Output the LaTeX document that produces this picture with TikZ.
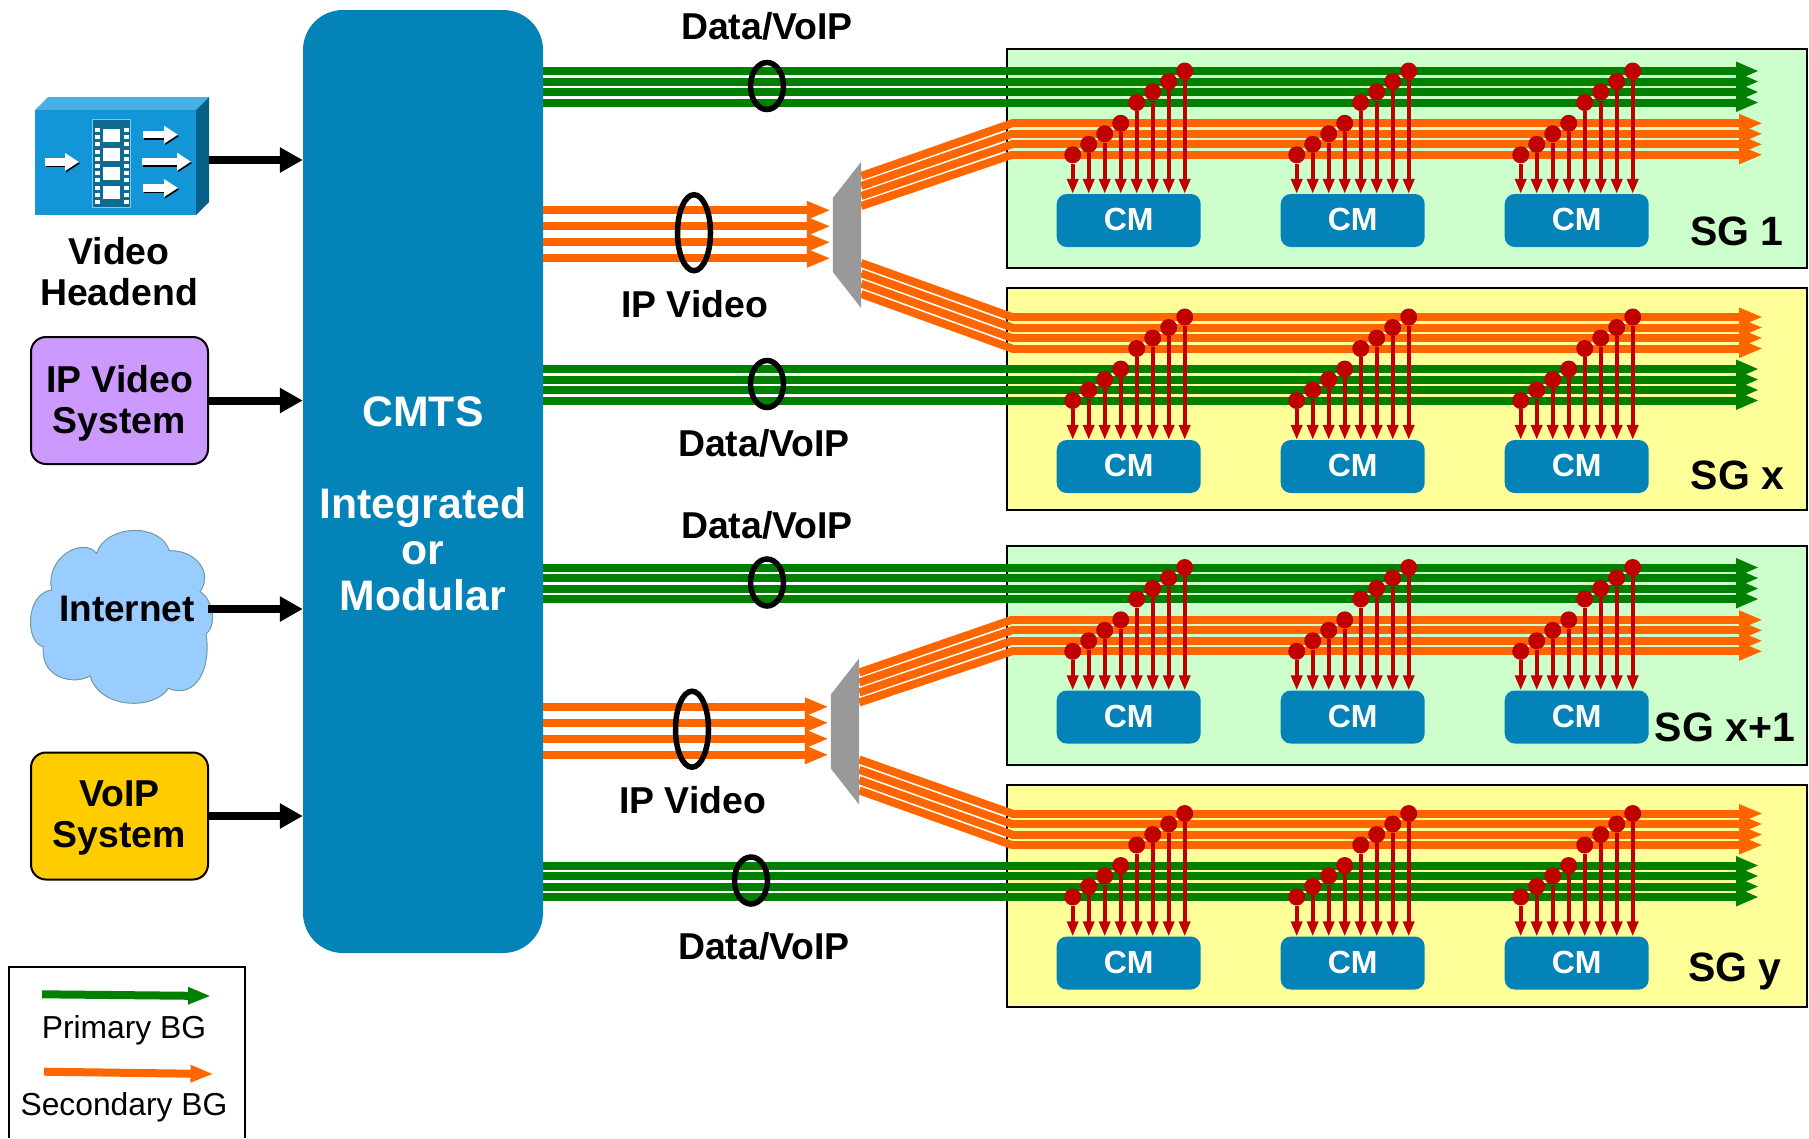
\documentclass[tikz,border=0pt]{standalone}
\usepackage{fontspec}
\setmainfont{Liberation Sans}
\usetikzlibrary{arrows.meta,shapes.geometric}
\definecolor{bggreen}{HTML}{008000}
\definecolor{bgorange}{HTML}{FF6600}
\definecolor{cmtsblue}{HTML}{0483B9}
\definecolor{pinred}{HTML}{C00000}
\definecolor{sggreen}{HTML}{CCFFCC}
\definecolor{sgyellow}{HTML}{FFFF99}
\definecolor{cubefront}{HTML}{1296D8}
\definecolor{cubetop}{HTML}{48AFE6}
\definecolor{cubeside}{HTML}{065F87}
\definecolor{filmblue}{HTML}{0F6A94}
\definecolor{filmedge}{HTML}{7FC8EC}
\definecolor{ipviolet}{HTML}{CC99FF}
\definecolor{voipgold}{HTML}{FFCC00}
\definecolor{cloudblue}{HTML}{99CCFF}
\definecolor{cloudedge}{HTML}{6F9A9F}
\tikzstyle{primary} = [draw=bggreen, line width=8pt, -{Triangle[length=23pt,width=17pt]}]
\tikzstyle{secondary} = [draw=bgorange, line width=8pt, -{Triangle[length=24pt,width=17pt]}]
\tikzstyle{fanline} = [draw=bgorange, line width=8pt]
\tikzstyle{feed} = [draw=black, line width=8pt, -{Triangle[length=23pt,width=24pt]}]
\tikzstyle{droparrow} = [draw=pinred, line width=4pt, -{Triangle[length=15pt,width=11pt]}]
\tikzstyle{pindot} = [circle, fill=pinred, minimum size=17pt, inner sep=0pt]
\tikzstyle{cmbox} = [fill=cmtsblue, rounded corners=10pt, minimum width=144pt, minimum height=53pt,
    inner sep=0pt, text=white, text depth=2pt, font=\fontsize{32}{36}\bfseries\selectfont]
\tikzstyle{sgbox} = [draw=black, line width=2pt, minimum width=800pt, minimum height=219pt, inner sep=0pt]
\tikzstyle{sysbox} = [draw=black, line width=2pt, rounded corners=15pt, minimum width=177pt, minimum height=127pt,
    align=center, inner sep=0pt, text depth=3pt, font=\fontsize{37.4}{41}\bfseries\selectfont]
\tikzstyle{boldlabel} = [inner sep=0pt, align=center, font=\fontsize{37.4}{41}\bfseries\selectfont]
\tikzstyle{sglabel} = [inner sep=0pt, font=\fontsize{41}{45}\bfseries\selectfont]
\tikzstyle{legendlabel} = [inner sep=0pt, font=\fontsize{31.8}{35}\selectfont]
\tikzstyle{ring} = [ellipse, draw=black, line width=5.5pt, inner sep=0pt]
\newcommand{\cmgroup}[4]{%
    \foreach \g in {0,1,2} {
        \node[cmbox] (cm#1\g) at (1128.7+224*\g, #4+26.5) {CM};
        \foreach \i in {0,...,3} {
            \node[pindot] (pa#1\g\i) at (1072.7+224*\g+16*\i, #2+31.5-10.5*\i) {};
            \node[pindot] (pb#1\g\i) at (1136.7+224*\g+16*\i, #3+31.5-10.5*\i) {};
            \draw[droparrow] (pa#1\g\i) -- (pa#1\g\i |- cm#1\g.north);
            \draw[droparrow] (pb#1\g\i) -- (pb#1\g\i |- cm#1\g.north);
        }
    }
}
\begin{document}
\begin{tikzpicture}[x=1pt,y=-1pt]
    \useasboundingbox (0,0) rectangle (1809,1138);
    \node[fill=cmtsblue, rounded corners=40pt, minimum width=240pt, minimum height=943pt, inner sep=0pt] (cmts) at (423,481.5) {};
    \node[inner sep=0pt, align=center, text=white, font=\fontsize{42.7}{46}\bfseries\selectfont] (cmtstext) at (423,503.5)
        {CMTS\\[46pt]Integrated\\or\\Modular};

    \foreach \hf/\dy/\dx/\sga/\sgb/\sgax/\sgbx/\datatop/\datalow/\ringx in
        {up/0/0/SG 1/SG x/1737/1737.5/26/443/767, low/496.5/-2/SG x+1/SG y/1725/1735/28.5/449.5/751} {
        \begin{scope}[shift={(0,\dy)}]
            \node[sgbox, fill=sggreen] (sga\hf) at (1407,158.5) {};
            \node[sgbox, fill=sgyellow, minimum height=222pt] (sgb\hf) at (1407,399) {};
            \node[inner sep=0pt, minimum width=30pt, minimum height=146pt] (fan\hf) at (846+\dx,235) {};
            \foreach \i in {0,...,3} {
                \coordinate (ga\hf\i) at (1759,71+10.5*\i);
                \coordinate (gb\hf\i) at (1759,369+10.5*\i);
                \coordinate (oa\hf\i) at (1763,123.3+10.5*\i);
                \coordinate (ob\hf\i) at (1763,317+10.5*\i);
                \coordinate (in\hf\i) at (0,210.3+16*\i);
                \coordinate (fa\hf\i) at (0,176+10*\i);
                \coordinate (fb\hf\i) at (0,263+10.3*\i);
                \draw[primary] (cmts.east |- ga\hf\i) -- (ga\hf\i);
                \draw[primary] (cmts.east |- gb\hf\i) -- (gb\hf\i);
                \draw[secondary] (cmts.east |- in\hf\i) -- (fan\hf.west |- in\hf\i);
                \draw[fanline] (fan\hf.east |- fa\hf\i) -- (1012,123.3+10.5*\i);
                \draw[fanline] (fan\hf.east |- fb\hf\i) -- (1012,317+10.5*\i);
                \draw[secondary] (1011,123.3+10.5*\i) -- (oa\hf\i);
                \draw[secondary] (1011,317+10.5*\i) -- (ob\hf\i);
            }
            \fill[black!40] (fan\hf.north east) -- (fan\hf.south east) -- ([xshift=2pt,yshift=-37pt]fan\hf.west)
                -- ([xshift=2pt,yshift=37pt]fan\hf.west) -- cycle;
            \node[ring, minimum width=33pt, minimum height=47pt] (ringa\hf) at (767,86) {};
            \node[ring, minimum width=33pt, minimum height=47pt] (ringb\hf) at (\ringx,384) {};
            \node[ring, minimum width=33pt, minimum height=76pt] (ringc\hf) at (694+\dx,232.7) {};
            \node[boldlabel] (dataa\hf) at (767,\datatop) {Data/VoIP};
            \node[boldlabel] (datab\hf) at (764,\datalow) {Data/VoIP};
            \node[boldlabel] (video\hf) at (694.5+\dx,304) {IP Video};
            \cmgroup{\hf a}{123.3}{71}{194}
            \cmgroup{\hf b}{369}{317}{440}
            \node[sglabel] (sgla\hf) at (\sgax,231) {\sga};
            \node[sglabel] (sglb\hf) at (\sgbx,475) {\sgb};
        \end{scope}
    }

    \node[inner sep=0pt, minimum width=174pt, minimum height=110pt] (headend) at (122,160) {};
    \fill[cubetop] (35,110) -- (48,97) -- (209,97) -- (196,110) -- cycle;
    \fill[cubeside] (196,110) -- (209,97) -- (209,202) -- (196,215) -- cycle;
    \fill[cubefront] (35,110) rectangle (196,215);
    \draw[fill=filmblue, draw=filmedge] (92,119.5) rectangle (130,207);
    \foreach \y in {129,148,167,186} {
        \fill[white] (103,\y) rectangle (120,\y+12.5);
    }
    \foreach \i in {0,...,10} {
        \fill[white] (95,128+7.2*\i) rectangle (99.5,132+7.2*\i);
        \fill[white] (124,128+7.2*\i) rectangle (128.5,132+7.2*\i);
    }
    \foreach \xa/\xb/\y in {45/79/162, 143/178/134.7, 142/191/161.7, 143/178/188} {
        \draw[black, line width=7.5pt, -{Triangle[length=14pt,width=17pt]}] (\xa+1,\y+1.5) -- (\xb+1,\y+1.5);
        \draw[white, line width=7.5pt, -{Triangle[length=14pt,width=17pt]}] (\xa,\y) -- (\xb,\y);
    }
    \node[boldlabel] (headendtext) at (119,272) {Video\\Headend};

    \node[sysbox, fill=ipviolet] (ipvideo) at (119.5,400.5) {IP Video\\System};
    \node[sysbox, fill=voipgold] (voip) at (119.5,816) {VoIP\\System};
    \begin{scope}[shift={(20,510)},scale=1/3]
        \draw[draw=cloudedge, line width=1pt, fill=cloudblue] (230,130) .. controls (255,45) and (420,35) .. (448,122)
            .. controls (530,120) and (580,190) .. (540,245) .. controls (575,265) and (595,340) .. (558,372)
            .. controls (575,470) and (530,570) .. (445,535) .. controls (405,600) and (240,600) .. (210,497)
            .. controls (170,525) and (60,510) .. (70,410) .. controls (15,400) and (15,250) .. (95,240)
            .. controls (75,140) and (190,80) .. (230,130) -- cycle;
    \end{scope}
    \node[inner sep=10pt, font=\fontsize{37}{40}\bfseries\selectfont] (internet) at (127,609) {Internet};

    \draw[feed] (headend.east) -- (headend.east -| cmts.west);
    \draw[feed] (ipvideo.east) -- (ipvideo.east -| cmts.west);
    \draw[feed] ([xshift=3pt]internet.east) -- (internet.east -| cmts.west);
    \draw[feed] (voip.east) -- (voip.east -| cmts.west);

    \draw[black, line width=2pt] (9,1138) -- (9,967) -- (245,967) -- (245,1138);
    \coordinate (legendga) at (42,994.3);
    \coordinate (legendgb) at (211,996);
    \coordinate (legendoa) at (44,1071.7);
    \coordinate (legendob) at (213.5,1074);
    \draw[primary, -{Triangle[length=23pt,width=16pt]}] (legendga) -- (legendgb);
    \draw[secondary, -{Triangle[length=23pt,width=16pt]}] (legendoa) -- (legendob);
    \node[legendlabel] (legendprimary) at (124,1030) {Primary BG};
    \node[legendlabel] (legendsecondary) at (124,1107) {Secondary BG};
\end{tikzpicture}
\end{document}
